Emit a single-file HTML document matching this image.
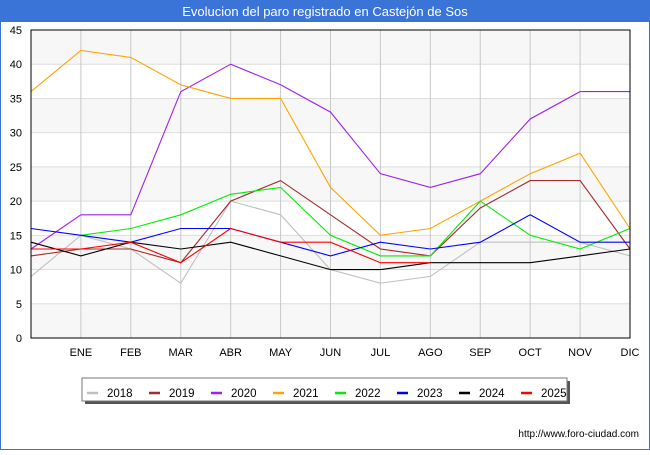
<!DOCTYPE html>
<html><head><meta charset="utf-8"><style>
body{margin:0;width:650px;height:450px;overflow:hidden;background:#fff;font-family:"Liberation Sans","DejaVu Sans",sans-serif}
</style></head><body>
<svg id="chart" width="650" height="450" xmlns="http://www.w3.org/2000/svg" font-family="Liberation Sans, DejaVu Sans, sans-serif">
<rect x="0" y="0" width="650" height="450" fill="#fff" stroke="#3a74d6" stroke-width="2"/>
<rect x="0" y="0" width="650" height="22" fill="#3a74d6"/>
<text x="325" y="16" text-anchor="middle" fill="#fff" font-size="13">Evolucion del paro registrado en Castejón de Sos</text>
<g id="grid"></g><g id="series"></g>
<rect x="31" y="30" width="599" height="308" fill="none" stroke="#000" stroke-width="1"/>
<g id="legend"></g>
<text x="639" y="437" text-anchor="end" font-size="10" fill="#000">http://www.foro-ciudad.com</text>
</svg>
<script>
const months=["","ENE","FEB","MAR","ABR","MAY","JUN","JUL","AGO","SEP","OCT","NOV","DIC"];
const yTicks=[0,5,10,15,20,25,30,35,40,45];
const years=["2018","2019","2020","2021","2022","2023","2024","2025"];
const colors=["#c0c0c0","#a52a2a","#a020f0","#ffa500","#00ee00","#0000ff","#000000","#ff0000"];
const s2018=[9,15,13,8,20,18,10,8,9,14,14,14,12];
const s2019=[12,13,13,11,20,23,18,13,12,19,23,23,13];
const s2020=[13,18,18,36,40,37,33,24,22,24,32,36,36];
const s2021=[36,42,41,37,35,35,22,15,16,20,24,27,16];
const s2022=[null,15,16,18,21,22,15,12,12,20,15,13,16];
const s2023=[16,15,14,16,16,14,12,14,13,14,18,14,14];
const s2024=[14,12,14,13,14,12,10,10,11,11,11,12,13];
const s2025=[13,13,14,11,16,14,14,11,11,null,null,null,null];
const allSeries=[s2018,s2019,s2020,s2021,s2022,s2023,s2024,s2025];
const X0=31,X1=630,Y0=338,Y1=30,YMAX=45;
const xs=i=>X0+i*(X1-X0)/(months.length-1);
const ys=v=>Y0-v*(Y0-Y1)/YMAX;
const NS="http://www.w3.org/2000/svg";
function mk(t,a,p){const e=document.createElementNS(NS,t);for(const k in a)e.setAttribute(k,a[k]);p.appendChild(e);return e;}
const grid=document.getElementById('grid');
for(let i=0;i<yTicks.length-1;i++){
  if(i%2===0){const b=mk('rect',{x:X0,y:ys(yTicks[i+1]),width:X1-X0,height:ys(yTicks[i])-ys(yTicks[i+1]),fill:'#f7f7f7'},grid);
  
  }
}
yTicks.forEach(v=>{
  const l=mk('line',{x1:X0,x2:X1,y1:ys(v),y2:ys(v),stroke:'#dddddd'},grid);
  
  
  const t=mk('text',{x:22,y:ys(v)+4,'text-anchor':'end','font-size':'11'},grid);t.textContent=v;
  
  
});
months.forEach((m,i)=>{
  const l=mk('line',{x1:xs(i),x2:xs(i),y1:Y1,y2:Y0,stroke:'#c8c8c8'},grid);
  
  
  if(m){const t=mk('text',{x:xs(i),y:356,'text-anchor':'middle','font-size':'11'},grid);t.textContent=m;
  
  }
});
const sg=document.getElementById('series');
allSeries.forEach((s,k)=>{
  let d='',pen=false;
  s.forEach((v,i)=>{if(v===null){pen=false;return;}d+=(pen?'L':'M')+xs(i).toFixed(1)+' '+ys(v).toFixed(1);pen=true;});
  const p=mk('path',{d:d,fill:'none',stroke:colors[k],'stroke-width':'1.1'},sg);
  
  
});
const lg=document.getElementById('legend');
const sh=mk('rect',{x:85,y:381,width:485,height:23,fill:'#555'},lg);


const box=mk('rect',{x:82,y:378,width:485,height:23,fill:'#fff',stroke:'#777'},lg);


years.forEach((y,k)=>{
  const x=87+k*62;
  const l=mk('line',{x1:x,x2:x+11,y1:393,y2:393,stroke:colors[k],'stroke-width':'2.5'},lg);
  
  
  const t=mk('text',{x:x+20,y:397,'font-size':'11.5'},lg);t.textContent=y;
  
  
});
</script>
</body></html>
